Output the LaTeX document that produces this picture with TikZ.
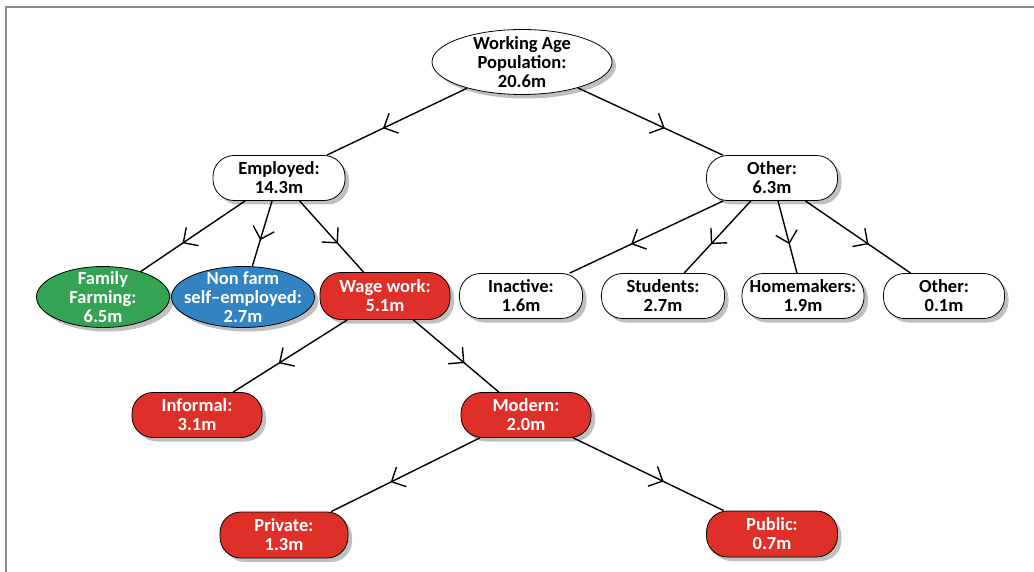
\documentclass[tikz,border=0pt]{standalone}
\usepackage{fontspec}
\setmainfont{Carlito}
\usetikzlibrary{shapes.geometric,shadows,decorations.markings,arrows.meta}
\definecolor{ffgreen}{RGB}{52,163,84}
\definecolor{nfblue}{RGB}{50,131,194}
\definecolor{wwred}{RGB}{222,48,40}
\definecolor{framegray}{RGB}{140,140,140}
\tikzset{
  box/.style={draw=black, line width=0.8pt, align=center, inner sep=0pt,
    font=\bfseries\fontsize{18.5}{19}\selectfont,
    drop shadow={shadow xshift=4pt, shadow yshift=-4pt, fill=black!25, opacity=1}},
  pill/.style={box, rectangle, rounded corners=21pt, minimum height=45pt},
  oval/.style={box, ellipse, inner sep=-20pt},
  wnode/.style={fill=white, text=black},
  gnode/.style={fill=ffgreen, text=white},
  bnode/.style={fill=nfblue, text=white},
  rnode/.style={fill=wwred, text=white},
  flow/.style={line width=1.4pt, postaction={decorate},
    decoration={markings, mark=at position 0.6 with {\arrow[line width=1.4pt]{Straight Barb[length=11pt,width=22pt]}}}}
}
\begin{document}
\begin{tikzpicture}[x=1pt,y=-1pt]
\useasboundingbox (0,0) rectangle (1034,572);
\draw[framegray, line width=1.5pt] (6,572) -- (6,7) -- (1034,7);

\node[oval, wnode, minimum width=180pt, minimum height=65pt] (root) at (522,62) {Working Age\\Population:\\20.6m};
\node[pill, wnode, minimum width=132pt] (emp) at (279,178) {Employed:\\14.3m};
\node[pill, wnode, minimum width=131pt] (oth) at (772,178) {Other:\\6.3m};

\node[oval, gnode, minimum width=133pt, minimum height=61pt] (fam) at (103,297) {Family\\Farming:\\6.5m};
\node[oval, bnode, minimum width=143pt, minimum height=61pt] (nonf) at (243,297) {Non farm\\self–employed:\\2.7m};
\node[pill, rnode, minimum width=130pt, minimum height=47pt] (wage) at (385,296) {Wage work:\\5.1m};

\node[pill, wnode, minimum width=123pt] (inact) at (521,296) {Inactive:\\1.6m};
\node[pill, wnode, minimum width=123pt] (stud) at (663,296) {Students:\\2.7m};
\node[pill, wnode, minimum width=122pt] (home) at (803,296) {Homemakers:\\1.9m};
\node[pill, wnode, minimum width=121pt] (oth2) at (944,296) {Other:\\0.1m};

\node[pill, rnode, minimum width=130pt] (inf) at (197,415) {Informal:\\3.1m};
\node[pill, rnode, minimum width=130pt] (mod) at (526,415) {Modern:\\2.0m};

\node[pill, rnode, minimum width=128pt, minimum height=46pt] (priv) at (284,535) {Private:\\1.3m};
\node[pill, rnode, minimum width=131pt, minimum height=46pt] (pub) at (772,534) {Public:\\0.7m};

\draw[flow] (root) -- (emp);
\draw[flow] (root) -- (oth);
\draw[flow] (emp) -- (fam);
\draw[flow] (emp) -- (nonf);
\draw[flow] (emp) -- (wage);
\draw[flow] (oth) -- (inact);
\draw[flow] (oth) -- (stud);
\draw[flow] (oth) -- (home);
\draw[flow] (oth) -- (oth2);
\draw[flow] (wage) -- (inf);
\draw[flow] (wage) -- (mod);
\draw[flow] (mod) -- (priv);
\draw[flow] (mod) -- (pub);
\end{tikzpicture}
\end{document}
